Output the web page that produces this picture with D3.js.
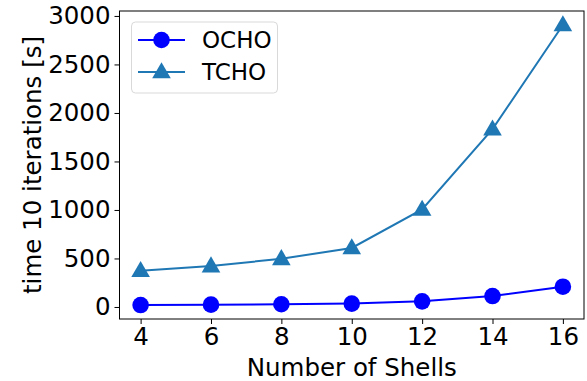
<!DOCTYPE html>
<html>
<head>
<meta charset="utf-8">
<script src="https://cdn.jsdelivr.net/npm/d3@7"></script>
<style>
body { margin: 0; background: #fff; }
text { font-family: "DejaVu Sans", sans-serif; fill: #000; }
</style>
</head>
<body>
<div id="chart"></div>
<script>
// data
var shells = [ 4, 6, 8, 10, 12, 14, 16 ];
var ocho = [ 20, 24, 28, 35, 58, 113, 209 ];
var tcho = [ 374, 422, 497, 608, 1006, 1833, 2907 ];
var xTicks = [ 4, 6, 8, 10, 12, 14, 16 ];
var yTicks = [ 0, 500, 1000, 1500, 2000, 2500, 3000 ];

var margin = { top: 11, right: 3, bottom: 62, left: 119.5 },
	width = 587 - margin.left - margin.right,
	height = 381 - margin.top - margin.bottom;

var fontSize = "24.5px";

var svg = d3.select( "#chart" )
	.append( "svg" )
	.attr( "width", 587 )
	.attr( "height", 381 );

var g = svg.append( "g" )
	.attr( "transform", "translate(" + margin.left + "," + margin.top + ")" );

// matplotlib-like 5% margins
var x = d3.scaleLinear()
	.domain( [ 3.4, 16.6 ] )
	.range( [ 0, width ] );

var y = d3.scaleLinear()
	.domain( [ -124, 3051 ] )
	.range( [ height, 0 ] );

var xAxis = d3.axisBottom( x ).tickValues( xTicks ).tickFormat( d3.format( "d" ) ).tickSize( 5 ).tickPadding( 4 );
var yAxis = d3.axisLeft( y ).tickValues( yTicks ).tickFormat( d3.format( "d" ) ).tickSize( 5 ).tickPadding( 4 );

g.append( "g" )
	.attr( "class", "x axis" )
	.attr( "transform", "translate(0," + height + ")" )
	.call( xAxis );

g.append( "g" )
	.attr( "class", "y axis" )
	.call( yAxis );

g.selectAll( ".axis path" ).remove();
g.selectAll( ".axis line" ).attr( "stroke", "#000" ).attr( "stroke-width", 1 );
g.selectAll( ".axis text" ).style( "font-size", fontSize ).style( "font-family", "DejaVu Sans" );

// frame
g.append( "rect" )
	.attr( "width", width )
	.attr( "height", height )
	.attr( "fill", "none" )
	.attr( "stroke", "#000" )
	.attr( "stroke-width", 1 );

// axis labels
svg.append( "text" )
	.attr( "x", margin.left + width / 2 )
	.attr( "y", 376 )
	.attr( "text-anchor", "middle" )
	.style( "font-size", fontSize )
	.text( "Number of Shells" );

svg.append( "text" )
	.attr( "transform", "translate(41," + ( margin.top + height / 2 ) + ") rotate(-90)" )
	.attr( "text-anchor", "middle" )
	.style( "font-size", fontSize )
	.text( "time 10 iterations [s]" );

var line = d3.line()
	.x( function( d ) { return x( d[ 0 ] ); } )
	.y( function( d ) { return y( d[ 1 ] ); } );

var ochoData = shells.map( function( s, i ) { return [ s, ocho[ i ] ]; } );
var tchoData = shells.map( function( s, i ) { return [ s, tcho[ i ] ]; } );

var tri = d3.symbol().type( d3.symbolTriangle ).size( 150 );

// OCHO
g.append( "path" )
	.datum( ochoData )
	.attr( "d", line )
	.attr( "fill", "none" )
	.attr( "stroke", "#0000ff" )
	.attr( "stroke-width", 2 );

g.selectAll( ".ocho" )
	.data( ochoData )
	.enter()
	.append( "circle" )
	.attr( "class", "ocho" )
	.attr( "cx", function( d ) { return x( d[ 0 ] ); } )
	.attr( "cy", function( d ) { return y( d[ 1 ] ); } )
	.attr( "r", 8.3 )
	.attr( "fill", "#0000ff" );

// TCHO
g.append( "path" )
	.datum( tchoData )
	.attr( "d", line )
	.attr( "fill", "none" )
	.attr( "stroke", "#1f77b4" )
	.attr( "stroke-width", 2 );

g.selectAll( ".tcho" )
	.data( tchoData )
	.enter()
	.append( "path" )
	.attr( "class", "tcho" )
	.attr( "d", tri )
	.attr( "transform", function( d ) { return "translate(" + x( d[ 0 ] ) + "," + ( y( d[ 1 ] ) + 1 ) + ")"; } )
	.attr( "fill", "#1f77b4" );

// legend
var lg = svg.append( "g" );
lg.append( "rect" )
	.attr( "x", 131.5 )
	.attr( "y", 22 )
	.attr( "width", 146 )
	.attr( "height", 71 )
	.attr( "rx", 4 )
	.attr( "fill", "#fff" )
	.attr( "fill-opacity", 0.8 )
	.attr( "stroke", "#d9d9d9" )
	.attr( "stroke-width", 1 );

var legendItems = [ "OCHO", "TCHO" ];
var legendColors = [ "#0000ff", "#1f77b4" ];
var legendY = [ 40, 72 ];

legendItems.forEach( function( name, i ) {
	lg.append( "line" )
		.attr( "x1", 138 ).attr( "x2", 185 )
		.attr( "y1", legendY[ i ] ).attr( "y2", legendY[ i ] )
		.attr( "stroke", legendColors[ i ] )
		.attr( "stroke-width", 2 );
	if ( i == 0 ) {
		lg.append( "circle" )
			.attr( "cx", 161.5 ).attr( "cy", legendY[ i ] )
			.attr( "r", 8.3 )
			.attr( "fill", legendColors[ i ] );
	} else {
		lg.append( "path" )
			.attr( "d", tri )
			.attr( "transform", "translate(161.5," + ( legendY[ i ] + 1 ) + ")" )
			.attr( "fill", legendColors[ i ] );
	}
	lg.append( "text" )
		.attr( "x", 202 )
		.attr( "y", legendY[ i ] + 8 )
		.style( "font-size", "23px" )
		.text( name );
} );
</script>
</body>
</html>
